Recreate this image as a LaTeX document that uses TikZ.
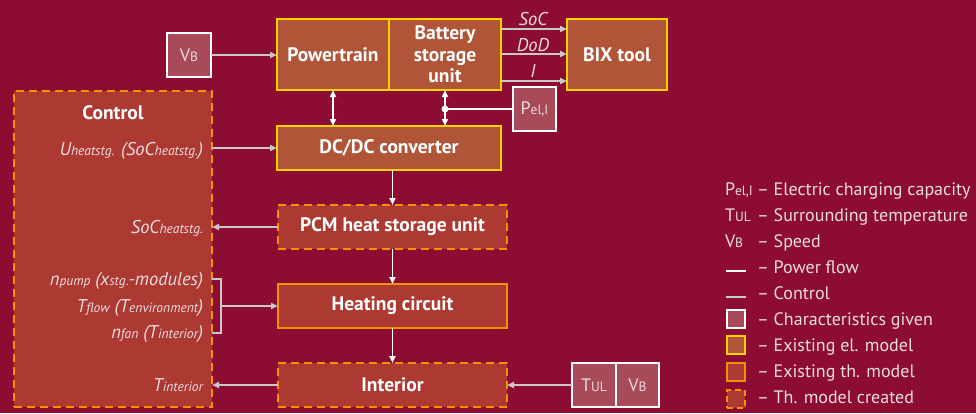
\documentclass[tikz,border=0pt]{standalone}
\usepackage{fontspec}
\setmainfont{PT Sans}
\usetikzlibrary{arrows.meta,calc}
\definecolor{bg}{HTML}{8C0D31}
\definecolor{elfill}{HTML}{B05538}
\definecolor{thfill}{HTML}{AD3A32}
\definecolor{charfill}{HTML}{A84A57}
\definecolor{elborder}{HTML}{FFD200}
\definecolor{thborder}{HTML}{F39200}
\definecolor{ctrlgray}{HTML}{C8C8C8}
\definecolor{lighttext}{HTML}{EADCE0}
\newcommand\sbs[1]{{\fontsize{13.5pt}{13.5pt}\selectfont #1}}
\begin{document}
\begin{tikzpicture}[x=1pt,y=-1pt,
 every node/.style={inner sep=0pt, outer sep=0pt},
 box/.style={rectangle, line width=2.5pt, text=white, font=\fontsize{19.5pt}{21.5pt}\selectfont\bfseries, align=center},
 elbox/.style={box, fill=elfill, draw=elborder},
 thbox/.style={box, fill=thfill, draw=thborder},
 newbox/.style={box, fill=thfill, draw=thborder, dash pattern=on 8pt off 5pt},
 charbox/.style={rectangle, line width=2.5pt, fill=charfill, draw=white, text=lighttext, font=\fontsize{18pt}{18pt}\selectfont, minimum width=44pt, minimum height=44pt},
 ctrl/.style={draw=ctrlgray, line width=1.8pt, -{Triangle[length=7pt,width=6pt]}},
 pow/.style={draw=white, line width=1.8pt, -{Triangle[length=7pt,width=6pt]}},
 powd/.style={draw=white, line width=1.8pt, {Triangle[length=7pt,width=6pt]}-{Triangle[length=7pt,width=6pt]}},
 lbl/.style={text=lighttext, font=\fontsize{18.5pt}{18pt}\selectfont\itshape},
 leg/.style={text=lighttext, font=\fontsize{18pt}{18pt}\selectfont, anchor=base west},
 legbox/.style={rectangle, line width=2.5pt, minimum width=18pt, minimum height=18pt},
]
\useasboundingbox[fill=bg] (0,0) rectangle (976,413);

% main boxes
\node[charbox] (VB) at (189,55) {V\sbs{B}};
\node[elbox, minimum width=112pt, minimum height=71pt] (PT) at (333,54.5) {Powertrain};
\node[elbox, minimum width=112pt, minimum height=71pt] (BAT) at (445,54.5) {Battery\\storage\\unit};
\node[elbox, minimum width=100pt, minimum height=71pt] (BIX) at (617,54.5) {BIX tool};
\node[charbox, minimum width=43pt] (PEL) at (534.5,109) {P\sbs{el,I}};
\node[elbox, minimum width=224pt, minimum height=44pt] (DC) at (389,148) {DC/DC converter};
\node[newbox, minimum width=229pt, minimum height=44pt] (PCM) at (392.5,227) {PCM heat storage unit};
\node[thbox, minimum width=229pt, minimum height=44pt] (HC) at (392.5,306) {Heating circuit};
\node[newbox, minimum width=229pt, minimum height=44pt] (INT) at (392.5,385) {Interior};
\node[charbox] (TUL) at (594,385) {T\sbs{UL}};
\node[charbox, minimum width=43pt] (VB2) at (637.5,385) {V\sbs{B}};

% control box
\node[newbox, minimum width=198pt, minimum height=316pt] (CTRL) at (113,249) {};
\node[box, anchor=base] (CT) at (113,119) {Control};
\node[lbl, anchor=base east] (L1) at (203,155) {U\sbs{heatstg.} (SoC\sbs{heatstg.})};
\node[lbl, anchor=base east] (L2) at (203,233) {SoC\sbs{heatstg.}};
\node[lbl, anchor=base east] (L3) at (203,285) {n\sbs{pump} (x\sbs{stg.}-modules)};
\node[lbl, anchor=base east] (L4) at (203,312) {T\sbs{flow} (T\sbs{environment})};
\node[lbl, anchor=base east] (L5) at (203,338) {n\sbs{fan} (T\sbs{interior})};
\node[lbl, anchor=base east] (L6) at (203,391) {T\sbs{interior}};

% connectors
\draw[ctrl] (VB.east) -- (PT.west |- VB.east);
\draw[ctrl] ([yshift=25.5pt]BAT.east) -- ([yshift=25.5pt]BIX.west);
\draw[ctrl] ([yshift=0.5pt]BAT.east) -- ([yshift=0.5pt]BIX.west);
\draw[ctrl] ([yshift=-26.5pt]BAT.east) -- ([yshift=-26.5pt]BIX.west);
\node[lbl, anchor=base] (SOC) at (533,25) {SoC};
\node[lbl, anchor=base] (DOD) at (533,51) {DoD};
\node[lbl, anchor=base] (II) at (533,77) {I};

\draw[powd] (PT.south) -- (PT.south |- DC.north);
\draw[powd] (BAT.south) -- (BAT.south |- DC.north);
\coordinate (dot) at (BAT.south |- PEL.west);
\draw[draw=white, line width=1.8pt] (PEL.west) -- (dot);
\fill[white] (dot) circle (3.5pt);

\draw[ctrl] (CTRL.east |- DC.west) -- (DC.west);
\draw[pow] (PCM.north |- DC.south) -- (PCM.north);
\draw[ctrl] (PCM.west) -- (PCM.west -| CTRL.east);
\draw[pow] (PCM.south) -- (HC.north);
\draw[pow] (HC.south) -- (INT.north);
\draw[ctrl] (TUL.west) -- (INT.east);
\draw[ctrl] (INT.west) -- (INT.west -| CTRL.east);

\coordinate (bt) at (221,279);
\coordinate (bb) at (221,333);
\draw[draw=ctrlgray, line width=1.3pt] (CTRL.east |- bt) -- (bt) -- (bb) -- (CTRL.east |- bb);
\draw[ctrl] (bt |- HC.west) -- (HC.west);

% legend
\node[leg] (G1a) at (725,195) {P\sbs{el,I}};
\node[leg] (G1) at (757,195) {– Electric charging capacity};
\node[leg] (G2a) at (725,221) {T\sbs{UL}};
\node[leg] (G2) at (757,221) {– Surrounding temperature};
\node[leg] (G3a) at (725,247) {V\sbs{B}};
\node[leg] (G3) at (757,247) {– Speed};
\coordinate (p1) at (726,271);
\coordinate (p2) at (746,271);
\draw[white, line width=2pt] (p1) -- (p2);
\node[leg] (G4) at (757,273) {– Power flow};
\coordinate (c1) at (726,297);
\coordinate (c2) at (746,297);
\draw[ctrlgray, line width=2pt] (c1) -- (c2);
\node[leg] (G5) at (757,299) {– Control};
\node[legbox, fill=charfill, draw=white] (B1) at (736,319) {};
\node[leg] (G6) at (757,325) {– Characteristics given};
\node[legbox, fill=elfill, draw=elborder] (B2) at (736,345) {};
\node[leg] (G7) at (757,351) {– Existing el. model};
\node[legbox, fill=thfill, draw=thborder] (B3) at (736,372) {};
\node[leg] (G8) at (757,377) {– Existing th. model};
\node[legbox, fill=thfill, draw=thborder, dash pattern=on 6pt off 4pt] (B4) at (736,399) {};
\node[leg] (G9) at (757,403) {– Th. model created};
\end{tikzpicture}
\end{document}
